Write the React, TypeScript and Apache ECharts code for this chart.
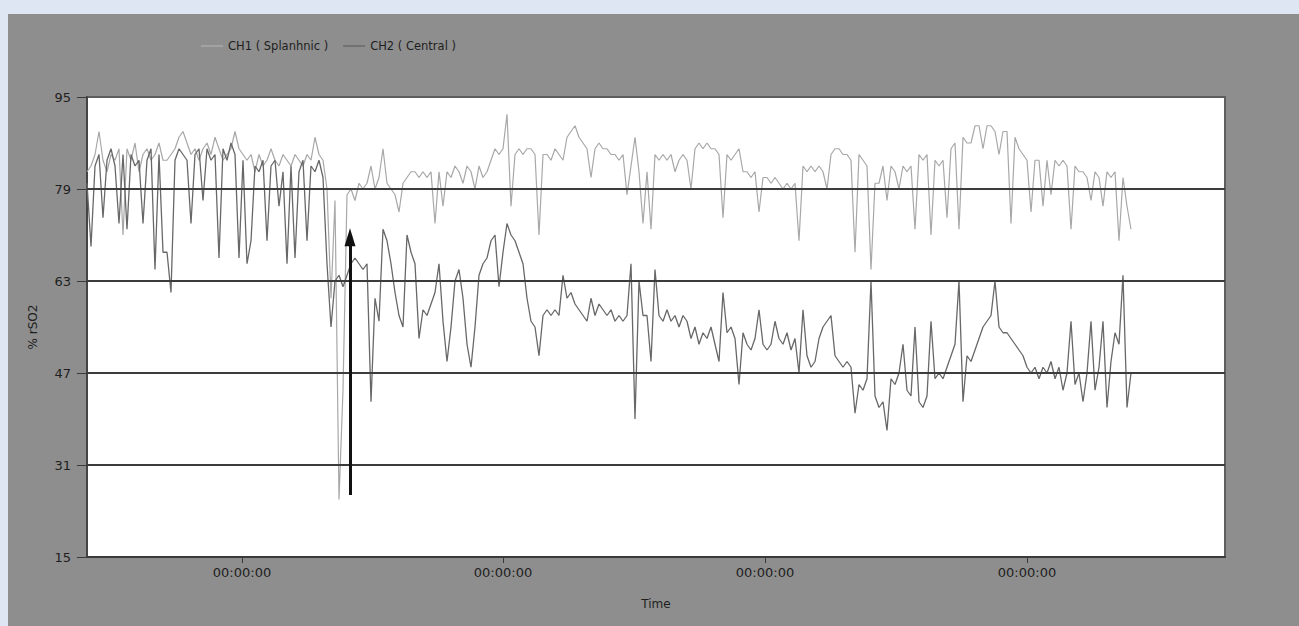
import React, { useEffect, useRef } from "react";
import * as echarts from "echarts";

// CH1 (Splanhnic) rSO2 samples, one every sample step
const ch1Values = [
  82, 83, 85, 89, 84, 82, 85, 84, 86, 71,
  86, 84, 87, 82, 85, 86, 84, 85, 87, 84,
  84, 85, 86, 88, 89, 87, 85, 86, 84, 86,
  87, 85, 88, 86, 84, 85, 86, 89, 86, 85,
  84, 85, 82, 85, 83, 84, 86, 84, 83, 85,
  84, 83, 85, 84, 83, 85, 84, 88, 85, 84,
  79, 60, 77, 25, 44, 78, 79, 77, 80, 79,
  80, 83, 79, 81, 86, 80, 79, 78, 75, 80,
  81, 82, 82, 81, 82, 81, 82, 73, 82, 76,
  82, 81, 83, 82, 80, 83, 82, 79, 83, 81,
  82, 84, 86, 85, 86, 92, 76, 85, 86, 85,
  86, 86, 85, 71, 85, 85, 84, 86, 85, 84,
  88, 89, 90, 88, 87, 86, 81, 86, 87, 86,
  86, 85, 85, 84, 85, 78, 83, 88, 82, 73,
  82, 72, 85, 84, 85, 84, 85, 82, 84, 85,
  84, 79, 86, 87, 86, 87, 86, 86, 85, 74,
  85, 84, 85, 86, 82, 82, 81, 82, 75, 81,
  81, 80, 81, 80, 79, 80, 79, 80, 70, 83,
  82, 83, 82, 83, 82, 79, 85, 86, 86, 85,
  85, 84, 68, 85, 84, 83, 65, 80, 80, 83,
  77, 83, 82, 79, 83, 82, 83, 72, 85, 84,
  85, 71, 84, 83, 84, 74, 86, 87, 72, 88,
  87, 87, 90, 90, 86, 90, 90, 89, 85, 89,
  89, 73, 88, 86, 85, 84, 75, 84, 84, 76,
  84, 78, 84, 83, 84, 83, 72, 83, 82, 82,
  81, 77, 82, 81, 76, 82, 81, 82, 70, 81,
  76, 72,
];

// CH2 (Central) rSO2 samples
const ch2Values = [
  80, 69, 83, 85, 74, 84, 86, 83, 73, 85,
  72, 85, 83, 84, 73, 84, 86, 65, 85, 68,
  68, 61, 84, 86, 85, 84, 73, 85, 86, 77,
  86, 84, 85, 67, 86, 84, 87, 85, 67, 84,
  66, 70, 83, 82, 84, 70, 83, 84, 76, 82,
  66, 83, 67, 82, 84, 70, 83, 82, 84, 81,
  66, 55, 63, 64, 62, 64, 66, 67, 66, 65,
  66, 42, 60, 56, 72, 70, 66, 61, 57, 55,
  71, 68, 66, 53, 58, 57, 59, 61, 66, 56,
  49, 55, 63, 65, 60, 52, 48, 55, 64, 66,
  67, 70, 71, 62, 68, 73, 71, 70, 68, 66,
  60, 56, 55, 50, 57, 58, 57, 58, 57, 64,
  60, 61, 59, 58, 57, 56, 60, 57, 59, 58,
  57, 58, 56, 57, 56, 57, 66, 39, 63, 57,
  57, 49, 65, 57, 56, 58, 56, 57, 55, 57,
  56, 53, 55, 52, 54, 53, 55, 52, 49, 61,
  54, 55, 53, 45, 54, 52, 51, 53, 58, 52,
  51, 52, 56, 53, 52, 54, 51, 53, 47, 58,
  50, 48, 49, 53, 55, 56, 57, 50, 49, 48,
  49, 48, 40, 45, 44, 46, 63, 43, 41, 42,
  37, 46, 45, 47, 52, 44, 43, 55, 42, 41,
  43, 56, 46, 47, 46, 48, 50, 52, 63, 42,
  50, 49, 51, 53, 55, 56, 57, 63, 55, 54,
  54, 53, 52, 51, 50, 48, 47, 48, 46, 48,
  47, 49, 46, 48, 44, 47, 56, 45, 47, 42,
  47, 56, 44, 48, 56, 41, 49, 54, 52, 64,
  41, 47,
];

const seriesNames = ["CH1 ( Splanhnic )", "CH2 ( Central )"];
const yTicks = [15, 31, 47, 63, 79, 95];
const gridValues = [31, 47, 63, 79];
const timeTicks = [38.75, 104, 169.5, 235];
const timeTickLabel = "00:00:00";
const timeMax = 284.5;
const arrowTime = 65.75;
const arrowFrom = 25.8;
const arrowTo = 70.6;

const FONT = "DejaVu Sans";

export default function App() {
  const ref = useRef<HTMLDivElement>(null);

  useEffect(() => {
    if (!ref.current) return;
    const chart = echarts.init(ref.current, null, { renderer: "svg" });
    const toPairs = (vals: number[]) => vals.map((v, i) => [i, v]);

    chart.setOption({
      animation: false,
      backgroundColor: "#8e8e8e",
      textStyle: { fontFamily: FONT },
      legend: {
        data: seriesNames,
        left: 188,
        top: 21,
        icon: "rect",
        itemWidth: 22,
        itemHeight: 1.5,
        itemGap: 15,
        textStyle: { fontSize: 11.5, color: "#1e1e1e", fontFamily: FONT },
      },
      grid: {
        left: 79,
        top: 83,
        width: 1138,
        height: 460,
        show: true,
        backgroundColor: "#ffffff",
        borderColor: "#5e5e5e",
        borderWidth: 2,
      },
      xAxis: {
        type: "value",
        min: 0,
        max: timeMax,
        name: "Time",
        nameLocation: "middle",
        nameGap: 41,
        nameTextStyle: { fontSize: 12, color: "#1e1e1e", fontFamily: FONT },
        axisLine: { show: true, onZero: false, lineStyle: { color: "#3a3a3a", width: 2 } },
        axisTick: { show: true, customValues: timeTicks, length: 6, lineStyle: { color: "#3a3a3a" } },
        axisLabel: {
          customValues: timeTicks,
          formatter: () => timeTickLabel,
          fontSize: 13,
          color: "#1e1e1e",
          margin: 9,
          fontFamily: FONT,
        },
        splitLine: { show: false },
      },
      yAxis: {
        type: "value",
        min: 15,
        max: 95,
        name: "% rSO2",
        nameLocation: "middle",
        nameGap: 48,
        nameRotate: 90,
        nameTextStyle: { fontSize: 12, color: "#1e1e1e", fontFamily: FONT },
        axisLine: { show: true, lineStyle: { color: "#444444", width: 2 } },
        axisTick: { show: true, customValues: yTicks, length: 10, lineStyle: { color: "#3a3a3a" } },
        axisLabel: {
          customValues: yTicks,
          fontSize: 13,
          color: "#1e1e1e",
          margin: 16,
          fontFamily: FONT,
        },
        splitLine: { show: false },
      },
      series: [
        {
          name: seriesNames[0],
          type: "line",
          data: toPairs(ch1Values),
          showSymbol: false,
          color: "#a8a8a8",
          lineStyle: { color: "#a8a8a8", width: 1.2 },
          z: 2,
        },
        {
          name: seriesNames[1],
          type: "line",
          data: toPairs(ch2Values),
          showSymbol: false,
          color: "#686868",
          lineStyle: { color: "#686868", width: 1.3 },
          z: 3,
        },
        {
          name: "gridlines",
          type: "line",
          data: [],
          z: 5,
          markLine: {
            silent: true,
            symbol: "none",
            label: { show: false },
            lineStyle: { color: "#3c3c3c", width: 2, type: "solid" },
            data: gridValues.map((v) => ({ yAxis: v })),
          },
        },
        {
          name: "arrow",
          type: "line",
          data: [],
          z: 10,
          markLine: {
            silent: true,
            symbol: ["none", "triangle"],
            symbolSize: [11, 18],
            label: { show: false },
            lineStyle: { color: "#111111", width: 3, type: "solid" },
            data: [[{ coord: [arrowTime, arrowFrom] }, { coord: [arrowTime, arrowTo] }]],
          },
        },
      ],
    });

    return () => chart.dispose();
  }, []);

  return (
    <div
      style={{
        position: "fixed",
        left: 0,
        top: 0,
        width: 1299,
        height: 626,
        background: "#dfe6f3",
      }}
    >
      <div ref={ref} style={{ position: "absolute", left: 8, top: 14, width: 1291, height: 612 }} />
    </div>
  );
}
